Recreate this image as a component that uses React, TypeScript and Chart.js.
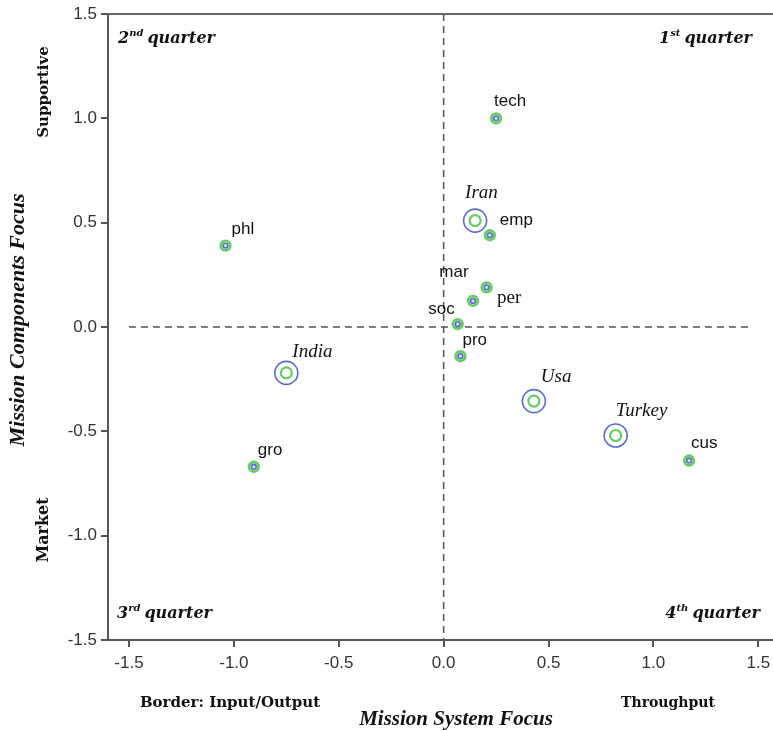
import React, { useEffect, useRef } from "react";
import { Chart, registerables } from "chart.js";

Chart.register(...registerables);

// ---- data ----
const variableNames = ["tech", "emp", "phl", "mar", "per", "soc", "pro", "gro", "cus"];
const variableX = [0.25, 0.22, -1.04, 0.205, 0.14, 0.067, 0.08, -0.905, 1.17];
const variableY = [1.0, 0.44, 0.39, 0.19, 0.125, 0.014, -0.14, -0.67, -0.64];

const countryNames = ["Iran", "India", "Usa", "Turkey"];
const countryX = [0.15, -0.75, 0.43, 0.82];
const countryY = [0.51, -0.22, -0.355, -0.52];

const tickValues = [-1.5, -1.0, -0.5, 0.0, 0.5, 1.0, 1.5];

// ---- styles ----
const GREEN = "#66cc66";
const BLUE = "#5a6cc8";
const varLabelOffsets: Record<string, [number, number, CanvasTextAlign]> = {
  tech: [-2, -17, "left"],
  emp: [10, -15, "left"],
  phl: [6, -16, "left"],
  mar: [-18, -15, "right"],
  per: [24, -3, "left"],
  soc: [-3, -15, "right"],
  pro: [2, -16, "left"],
  gro: [4, -16, "left"],
  cus: [2, -17, "left"],
};
const countryLabelOffsets: Record<string, [number, number, CanvasTextAlign]> = {
  Iran: [-10, -28, "left"],
  India: [6, -21, "left"],
  Usa: [7, -24, "left"],
  Turkey: [0, -25, "left"],
};

const SERIF = "'Liberation Serif', 'DejaVu Serif', serif";
const WSERIF = "'DejaVu Serif', serif";
const SANS = "'Liberation Sans', Arial, sans-serif";

const toPoints = (xs: number[], ys: number[]) => xs.map((x, i) => ({ x, y: ys[i] }));

function drawQuarter(
  ctx: CanvasRenderingContext2D,
  x: number,
  y: number,
  num: string,
  sup: string,
  alignRight: boolean
) {
  const big = `italic bold 16px ${WSERIF}`;
  const small = `italic bold 10px ${WSERIF}`;
  ctx.textAlign = "left";
  ctx.textBaseline = "alphabetic";
  ctx.font = big;
  const w1 = ctx.measureText(num).width;
  const w3 = ctx.measureText("quarter").width;
  ctx.font = small;
  const w2 = ctx.measureText(sup).width + 4;
  const total = w1 + w2 + w3;
  const sx = alignRight ? x - total : x;
  ctx.font = big;
  ctx.fillText(num, sx, y);
  ctx.fillText("quarter", sx + w1 + w2, y);
  ctx.font = small;
  ctx.fillText(sup, sx + w1, y - 7);
}

const overlayPlugin = {
  id: "overlay",
  beforeDatasetsDraw(chart: any) {
    const { ctx, chartArea, scales } = chart;
    const x0 = scales.x.getPixelForValue(0);
    const y0 = scales.y.getPixelForValue(0);
    ctx.save();
    ctx.strokeStyle = "#555";
    ctx.lineWidth = 1.5;
    ctx.setLineDash([7, 5]);
    ctx.beginPath();
    ctx.moveTo(x0, chartArea.top);
    ctx.lineTo(x0, chartArea.bottom);
    ctx.moveTo(scales.x.getPixelForValue(-1.5), y0);
    ctx.lineTo(scales.x.getPixelForValue(1.47), y0);
    ctx.stroke();
    ctx.setLineDash([]);
    // top frame line
    ctx.strokeStyle = "#666";
    ctx.lineWidth = 2;
    ctx.beginPath();
    ctx.moveTo(chartArea.left, chartArea.top);
    ctx.lineTo(chartArea.right, chartArea.top);
    ctx.stroke();
    ctx.restore();
  },
  afterDraw(chart: any) {
    const { ctx, chartArea } = chart;
    ctx.save();
    ctx.fillStyle = "#111";
    // variable labels
    const varMeta = chart.getDatasetMeta(0);
    varMeta.data.forEach((el: any, i: number) => {
      const name = variableNames[i];
      const [dx, dy, align] = varLabelOffsets[name];
      ctx.font = name === "per" ? `19px ${SERIF}` : `17px ${SANS}`;
      ctx.textAlign = align;
      ctx.textBaseline = "middle";
      ctx.fillText(name, el.x + dx, el.y + dy);
    });
    const cMeta = chart.getDatasetMeta(2);
    cMeta.data.forEach((el: any, i: number) => {
      const name = countryNames[i];
      const [dx, dy, align] = countryLabelOffsets[name];
      ctx.font = `italic 19px ${SERIF}`;
      ctx.textAlign = align;
      ctx.textBaseline = "middle";
      ctx.fillText(name, el.x + dx, el.y + dy);
    });
    // quarter labels
    ctx.fillStyle = "#111";
    drawQuarter(ctx, chartArea.left + 10, chartArea.top + 29, "2", "nd", false);
    drawQuarter(ctx, chartArea.right - 21, chartArea.top + 29, "1", "st", true);
    drawQuarter(ctx, chartArea.left + 9, chartArea.bottom - 22, "3", "rd", false);
    drawQuarter(ctx, chartArea.right - 13, chartArea.bottom - 22, "4", "th", true);

    // axis titles
    ctx.textBaseline = "middle";
    ctx.textAlign = "center";
    ctx.font = `bold 15px ${WSERIF}`;
    ctx.fillText("Border: Input/Output", 230, 703);
    ctx.font = `bold 14px ${WSERIF}`;
    ctx.fillText("Throughput", 668, 703);
    ctx.font = `italic bold 21px ${SERIF}`;
    ctx.fillText("Mission System Focus", 456, 720);

    const rot = (text: string, x: number, y: number, font: string) => {
      ctx.save();
      ctx.translate(x, y);
      ctx.rotate(-Math.PI / 2);
      ctx.font = font;
      ctx.fillText(text, 0, 0);
      ctx.restore();
    };
    rot("Mission Components Focus", 18, 320, `italic bold 22px ${SERIF}`);
    rot("Supportive", 44, 92, `bold 15px ${WSERIF}`);
    rot("Market", 44, 530, `bold 16px ${WSERIF}`);
    ctx.restore();
  },
};

export default function App() {
  const ref = useRef<HTMLCanvasElement>(null);
  useEffect(() => {
    document.body.style.margin = "0";
    const canvas = ref.current!;
    const chart = new Chart(canvas, {
      type: "scatter",
      data: {
        datasets: [
          {
            data: toPoints(variableX, variableY),
            pointRadius: 4.8,
            pointBorderWidth: 2.8,
            borderColor: GREEN,
            backgroundColor: "rgba(0,0,0,0)",
            pointHoverRadius: 4.8,
          },
          {
            data: toPoints(variableX, variableY),
            pointRadius: 2.4,
            pointBorderWidth: 1.6,
            borderColor: BLUE,
            backgroundColor: "rgba(215,220,245,1)",
            pointHoverRadius: 2.4,
          },
          {
            data: toPoints(countryX, countryY),
            pointRadius: 11.5,
            pointBorderWidth: 1.6,
            borderColor: BLUE,
            backgroundColor: "rgba(0,0,0,0)",
            pointHoverRadius: 11.5,
          },
          {
            data: toPoints(countryX, countryY),
            pointRadius: 5.5,
            pointBorderWidth: 2.2,
            borderColor: GREEN,
            backgroundColor: "rgba(0,0,0,0)",
            pointHoverRadius: 5.5,
          },
        ],
      },
      options: {
        responsive: false,
        animation: false,
        layout: { autoPadding: false, padding: { top: 14, right: 0, left: 0, bottom: 0 } },
        plugins: { legend: { display: false }, tooltip: { enabled: false } },
        scales: {
          x: {
            type: "linear",
            min: -1.6,
            max: 1.57,
            afterBuildTicks: (scale: any) => {
              scale.ticks = tickValues.map((v) => ({ value: v }));
            },
            afterFit: (scale: any) => {
              scale.height = 91;
              scale.paddingLeft = 0;
              scale.paddingRight = 0;
            },
            grid: { drawOnChartArea: false, drawTicks: true, tickLength: 7, color: "#555", lineWidth: 2 },
            border: { display: true, color: "#555", width: 2 },
            ticks: {
              color: "#333",
              font: { family: SANS, size: 17 },
              padding: 6,
              maxRotation: 0,
              callback: (v: any) => Number(v).toFixed(1),
            },
          },
          y: {
            type: "linear",
            min: -1.5,
            max: 1.5,
            afterBuildTicks: (scale: any) => {
              scale.ticks = tickValues.map((v) => ({ value: v }));
            },
            afterFit: (scale: any) => {
              scale.width = 108;
              scale.paddingTop = 0;
              scale.paddingBottom = 0;
            },
            grid: { drawOnChartArea: false, drawTicks: true, tickLength: 7, color: "#555", lineWidth: 2 },
            border: { display: true, color: "#555", width: 2 },
            ticks: {
              color: "#333",
              font: { family: SANS, size: 17 },
              padding: 4,
              callback: (v: any) => Number(v).toFixed(1),
            },
          },
        },
      },
      plugins: [overlayPlugin],
    });
    return () => chart.destroy();
  }, []);
  return <canvas ref={ref} width={773} height={731} style={{ display: "block" }} />;
}
